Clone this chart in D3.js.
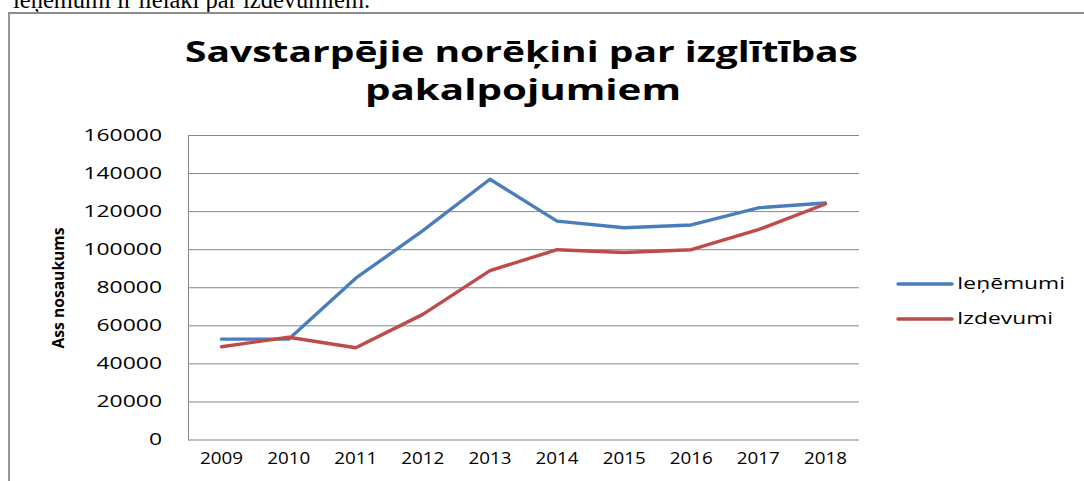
<!DOCTYPE html>
<html>
<head>
<meta charset="utf-8">
<script src="https://cdn.jsdelivr.net/npm/d3@7"></script>
<style>
  body { margin: 0; background: #fff; }
  svg { display: block; }
</style>
</head>
<body>
<main></main>
<script>
// Dati
const gadi = ['2009', '2010', '2011', '2012', '2013', '2014', '2015', '2016', '2017', '2018'];
const ienemumi = [53000, 53000, 85000, 110000, 137000, 115000, 111500, 113000, 122000, 124500];
const izdevumi = [49000, 54000, 48500, 66000, 89000, 100000, 98500, 100000, 110500, 124000];
const yTicks = [0, 20000, 40000, 60000, 80000, 100000, 120000, 140000, 160000];
const serijas = [
    { name: 'Ieņēmumi', values: ienemumi, color: '#4a7ebb' },
    { name: 'Izdevumi', values: izdevumi, color: '#be4b48' }
];

const svgWidth = 1084, svgHeight = 481;
const font = '"Open Sans", "DejaVu Sans", sans-serif';

const svg = d3.select('main').append('svg')
    .attr('width', svgWidth)
    .attr('height', svgHeight);

// teksts no dokumenta virs diagrammas (apgriezts)
svg.append('text')
    .attr('x', 13)
    .attr('y', 7.5)
    .attr('font-family', '"Liberation Serif", "Times New Roman", serif')
    .attr('font-size', 24.5)
    .attr('fill', '#000')
    .text('ieņēmumi ir lielāki par izdevumiem.');

// rāmis
svg.append('path')
    .attr('d', `M9,${svgHeight} V13 H${svgWidth}`)
    .attr('fill', 'none')
    .attr('stroke', '#8c8c8c')
    .attr('stroke-width', 1.8);

// Virsraksts
const title = svg.append('g')
    .attr('font-family', font)
    .attr('font-weight', 'bold')
    .attr('font-size', 28)
    .attr('fill', '#000');
title.append('text')
    .attr('x', 185).attr('y', 62)
    .attr('textLength', 673)
    .attr('lengthAdjust', 'spacingAndGlyphs')
    .text('Savstarpējie norēķini par izglītības');
title.append('text')
    .attr('x', 365).attr('y', 100)
    .attr('textLength', 316)
    .attr('lengthAdjust', 'spacingAndGlyphs')
    .text('pakalpojumiem');

// Skalas
const xScale = d3.scaleBand()
    .domain(gadi)
    .range([188, 859])
    .padding(0);
const xc = d => xScale(d) + xScale.bandwidth() / 2;

const yScale = d3.scaleLinear()
    .domain([0, 160000])
    .range([440, 135.5]);

// Režģa līnijas
svg.append('g')
    .selectAll('line')
    .data(yTicks.slice(1))
    .enter()
    .append('line')
    .attr('x1', 188).attr('x2', 859)
    .attr('y1', d => yScale(d)).attr('y2', d => yScale(d))
    .attr('stroke', '#868686')
    .attr('stroke-width', 1);

// Asis
const yAxis = svg.append('g')
    .attr('transform', 'translate(188,0)')
    .call(d3.axisLeft(yScale).tickValues(yTicks).tickSize(0).tickPadding(26).tickFormat(d3.format('d')));
yAxis.select('.domain').attr('stroke', '#868686');
yAxis.selectAll('text')
    .attr('font-family', font)
    .attr('font-size', 15.5)
    .attr('fill', '#000')
    .attr('textLength', d => String(d).length * 13.1)
    .attr('lengthAdjust', 'spacingAndGlyphs');

const xAxis = svg.append('g')
    .attr('transform', 'translate(0,440)')
    .call(d3.axisBottom(xScale).tickSize(0).tickPadding(13));
xAxis.select('.domain').attr('stroke', '#868686').attr('d', 'M188,0H859');
xAxis.selectAll('text')
    .attr('font-family', font)
    .attr('font-size', 15.5)
    .attr('fill', '#000')
    .attr('textLength', 43)
    .attr('lengthAdjust', 'spacingAndGlyphs');

// ass nosaukums
svg.append('text')
    .attr('transform', 'translate(64,288) rotate(-90)')
    .attr('text-anchor', 'middle')
    .attr('font-family', font)
    .attr('font-weight', 'bold')
    .attr('font-size', 15.5)
    .attr('textLength', 121)
    .attr('lengthAdjust', 'spacingAndGlyphs')
    .text('Ass nosaukums');

// Līnijas
const line = d3.line()
    .x((d, i) => xc(gadi[i]))
    .y(d => yScale(d));

svg.selectAll('.serija')
    .data(serijas)
    .enter()
    .append('path')
    .attr('class', 'serija')
    .attr('d', d => line(d.values))
    .attr('fill', 'none')
    .attr('stroke', d => d.color)
    .attr('stroke-width', 3.4)
    .attr('stroke-linejoin', 'round')
    .attr('stroke-linecap', 'round');

// Leģenda
const legend = svg.selectAll('.leg')
    .data(serijas)
    .enter()
    .append('g')
    .attr('class', 'leg')
    .attr('transform', (d, i) => `translate(898,${284 + i * 35})`);
legend.append('line')
    .attr('x1', 0).attr('x2', 54)
    .attr('stroke', d => d.color)
    .attr('stroke-width', 3.4)
    .attr('stroke-linecap', 'round');
legend.append('text')
    .attr('x', 59)
    .attr('dy', '0.35em')
    .attr('font-family', font)
    .attr('font-size', 15.5)
    .attr('textLength', (d, i) => i === 0 ? 108 : 96)
    .attr('lengthAdjust', 'spacingAndGlyphs')
    .text(d => d.name);
</script>
</body>
</html>
